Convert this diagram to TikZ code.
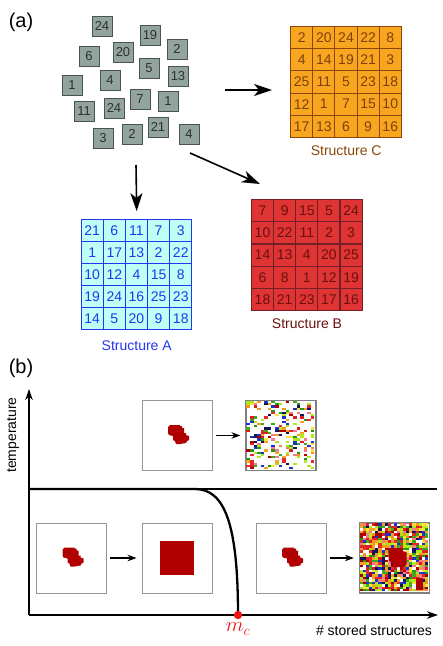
\documentclass[tikz,border=0pt]{standalone}
\usepackage{fontspec}
\setmainfont{Liberation Sans}
\usetikzlibrary{arrows.meta, positioning, calc}
\definecolor{tilefill}{RGB}{147,163,158}
\definecolor{tileline}{RGB}{72,84,81}
\definecolor{tiletext}{RGB}{45,50,50}
\definecolor{Afill}{RGB}{190,255,246}
\definecolor{Aline}{RGB}{35,55,240}
\definecolor{Bfill}{RGB}{222,52,52}
\definecolor{Bline}{RGB}{118,30,40}
\definecolor{Btext}{RGB}{110,15,15}
\definecolor{Cfill}{RGB}{248,166,32}
\definecolor{Cline}{RGB}{140,72,12}
\definecolor{Ctext}{RGB}{128,64,10}
\definecolor{boxgray}{RGB}{150,150,150}
\definecolor{blobred}{RGB}{176,0,0}
\definecolor{mcred}{RGB}{240,20,20}
\definecolor{nz1}{RGB}{222,30,30}
\definecolor{nz2}{RGB}{170,0,0}
\definecolor{nz3}{RGB}{40,150,20}
\definecolor{nz4}{RGB}{170,230,20}
\definecolor{nz5}{RGB}{250,228,60}
\definecolor{nz6}{RGB}{250,160,40}
\definecolor{nz7}{RGB}{250,120,140}
\definecolor{nz8}{RGB}{30,50,200}
\definecolor{nz9}{RGB}{20,20,90}
\definecolor{nz10}{RGB}{230,40,40}
\definecolor{nz11}{RGB}{180,235,30}
\definecolor{nz12}{RGB}{245,150,30}
\definecolor{nz13}{RGB}{60,170,30}
\tikzset{
    >={Stealth[length=18pt,width=12pt,inset=5pt]}, % big arrow heads of part (a)
    tile/.style={draw=tileline, fill=tilefill, text=tiletext, line width=1pt, minimum size=20pt, inner sep=0pt, font=\fontsize{13}{13}\selectfont},
    cell/.style={minimum size=22.14pt, inner sep=0pt, line width=1.1pt, font=\fontsize{14}{14}\selectfont},
    cellA/.style={cell, draw=Aline, fill=Afill, text=Aline},
    cellB/.style={cell, draw=Bline, fill=Bfill, text=Btext},
    cellC/.style={cell, draw=Cline, fill=Cfill, text=Ctext},
    gridbox/.style={minimum size=110.7pt, inner sep=0pt, draw=none},
    arrow/.style={line width=1.6pt, ->},
    axis/.style={line width=1.3pt, -{Stealth[length=11pt,width=7.5pt]}},
    smallarrow/.style={line width=1.2pt, -{Stealth[length=9pt,width=6.5pt]}, shorten <=3.5pt, shorten >=5pt},
    phase/.style={line width=2.3pt},
    panel/.style={draw=boxgray, fill=white, line width=0.9pt, minimum size=70pt, inner sep=0pt},
    noisepanel/.style={panel, draw=gray, line width=1.2pt},
    label/.style={font=\fontsize{14}{14}\selectfont},
    blob/.pic={\fill[blobred] (-9,-10.5) ++(2,0) -- ++(10,0) -- ++(0,1) -- ++(2,0) -- ++(0,2) -- ++(2,0) -- ++(0,5) -- ++(2,0) -- ++(0,2) -- ++(3,1) -- ++(0,4) -- ++(-2,1) -- ++(-1,2) -- ++(-6,1) -- ++(-4,0) -- ++(-1,-3) -- ++(-2,-1) -- ++(0,-4) -- ++(-4,-1) -- ++(-1,-2) -- ++(0,-6) -- cycle;}
}
\begin{document}
\begin{tikzpicture}[x=1pt, y=-1pt]
    \useasboundingbox (0,0) rectangle (443,646);
    % part (a)
    \node[font=\fontsize{20}{20}\selectfont] (a) at (21,22) {(a)};
    \foreach \x/\y/\n [count=\i] in {102/26/24, 150/35/19, 89/56/6, 123/52/20, 177/49/2, 149/68/5, 178/76/13, 72/85/1, 110/80/4, 140/99/7, 168/101/1, 84/111/11, 114/108/24, 158/127/21, 132/134/2, 103/138/3, 189/134/4}
        \node[tile] (t\i) at (\x,\y) {\n};

    \node[gridbox] (gA) at (136.7,274.7) {};
    \foreach \row [count=\r] in {{21,6,11,7,3},{1,17,13,2,22},{10,12,4,15,8},{19,24,16,25,23},{14,5,20,9,18}}
        \foreach \n [count=\c] in \row
            \node[cellA] (A-\r-\c) at ($(gA.north west)+(\c*22.14-11.07,\r*22.14-11.07)$) {\n};
    \node[label, text=Aline, below=7pt of gA] (lA) {Structure A};

    \node[gridbox] (gB) at (307,255.3) {};
    \foreach \row [count=\r] in {{7,9,15,5,24},{10,22,11,2,3},{14,13,4,20,25},{6,8,1,12,19},{18,21,23,17,16}}
        \foreach \n [count=\c] in \row
            \node[cellB] (B-\r-\c) at ($(gB.north west)+(\c*22.14-11.07,\r*22.14-11.07)$) {\n};
    \node[label, text=Btext, below=4pt of gB] (lB) {Structure B};

    \node[gridbox] (gC) at (346.2,82.2) {};
    \foreach \row [count=\r] in {{2,20,24,22,8},{4,14,19,21,3},{25,11,5,23,18},{12,1,7,15,10},{17,13,6,9,16}}
        \foreach \n [count=\c] in \row
            \node[cellC] (C-\r-\c) at ($(gC.north west)+(\c*22.14-11.07,\r*22.14-11.07)$) {\n};
    \node[label, text=Cline, below=4pt of gC] (lC) {Structure C};

    \coordinate (fromA) at (136,165);
    \coordinate (fromB) at (190,153);
    \coordinate (fromC) at (225,90);
    \coordinate (toB) at (260,184);
    \coordinate (toC) at (272,90);
    \draw[arrow] (fromA) -- ($(gA.north)+(0,-8)$);
    \draw[arrow] (fromB) -- (toB);
    \draw[arrow] (fromC) -- (toC);

    % part (b)
    \node[font=\fontsize{20}{20}\selectfont] (b) at (21,368) {(b)};
    \coordinate (O) at (29,615);
    \coordinate (Ytop) at (29,389);
    \coordinate (Xend) at (438,615);
    \draw[axis] (O) -- (Ytop);
    \draw[axis] (O) -- (Xend);
    \node[label, rotate=90] (tlab) at (13,435) {temperature};
    \node[label] (xlab) at (374,630) {\# stored structures};

    \node[panel] (p1) at (177,435.5) {};
    \node[noisepanel] (p2) at (281,435.5) {};
    \node[panel] (p3) at (71.5,558) {};
    \node[panel] (p4) at (177,558) {};
    \node[panel] (p5) at (291,558) {};
    \node[noisepanel] (p6) at (394.5,558) {};

    \pgfmathsetseed{11}
    \foreach \i in {0,...,18}
        \foreach \j in {0,...,30} {
            \pgfmathrandominteger{\k}{1}{36}
            \ifnum\k<14 \fill[nz\k] ($(p2.north west)+(1+\i*3.58,1+\j*2.2)$) rectangle +(3.58,2.2); \fi
        }
    \foreach \i in {0,...,21}
        \foreach \j in {0,...,27} {
            \pgfmathrandominteger{\k}{1}{15}
            \ifnum\k<14 \fill[nz\k] ($(p6.north west)+(1+\i*3.09,1+\j*2.43)$) rectangle +(3.09,2.43); \fi
        }
    \fill[blobred] ($(p6)+(-5,-10)$) -- ++(13,0) -- ++(0,3) -- ++(4,1) -- ++(0,12) -- ++(-3,3) -- ++(-10,0) -- ++(-1,-4) -- ++(-4,-2) -- ++(0,-9) -- cycle;
    \fill[blobred] ($(p6)+(21.5,20)$) rectangle ($(p6)+(28.5,32)$);

    \pic at (p1) {blob};
    \pic at (p3) {blob};
    \pic at (p5) {blob};
    \fill[blobred] ($(p4)+(-17,-17)$) rectangle ($(p4)+(17,17)$);

    \draw[smallarrow] (p1) -- (p2);
    \draw[smallarrow] (p3) -- (p4);
    \draw[smallarrow] (p5) -- (p6);

    \coordinate (Tl) at (29,489);
    \coordinate (Tr) at (437,489);
    \coordinate (knee) at (195,489);
    \coordinate (mc) at (238,615);
    \draw[phase] (Tl) -- (Tr);
    \draw[phase] (Tl) -- (knee) .. controls (225,489) and (238,525) .. (mc);
    \fill[mcred] (mc) circle (4.2pt);
    \node[text=mcred, font=\fontsize{22}{22}\selectfont] (mclab) at (238,629) {$m_c$};
\end{tikzpicture}
\end{document}
